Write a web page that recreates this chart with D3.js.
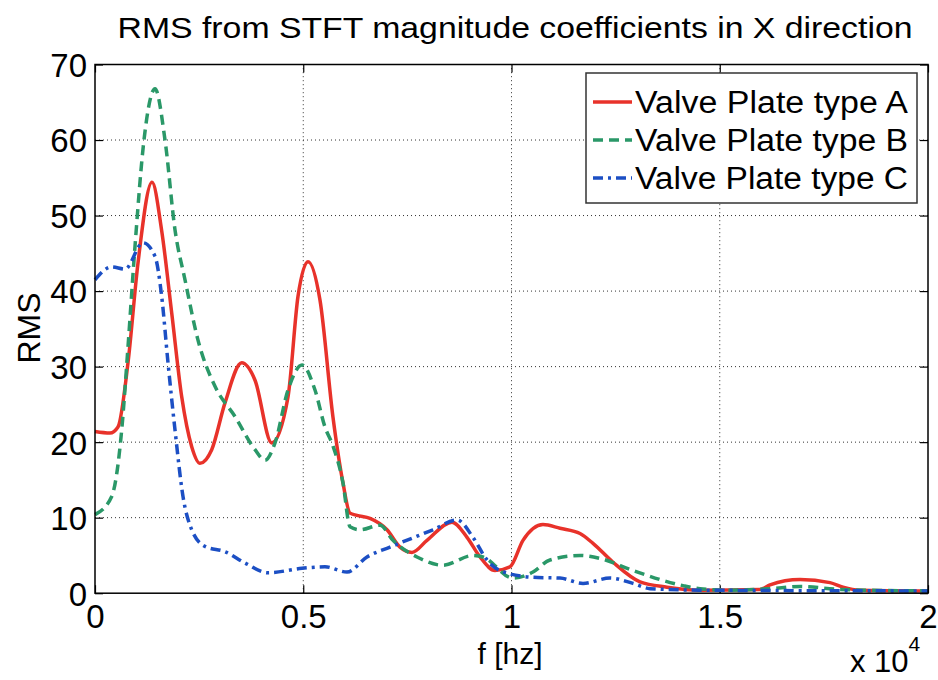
<!DOCTYPE html>
<html>
<head>
<meta charset="utf-8">
<script src="https://cdn.jsdelivr.net/npm/d3@7"></script>
<style>
  body { margin: 0; background: #fff; }
  text { font-family: "Liberation Sans", Arial, sans-serif; fill: #000; }
</style>
</head>
<body>
<div id="wrapper"></div>
<script>
// frequency in Hz, RMS values
const freqA = [0, 360, 552, 792, 1032, 1369, 1601, 1842, 2082, 2322, 2521, 2802, 3121, 3522, 3842, 4243, 4634, 4874, 5114, 5402, 5714, 5954, 6122, 6290, 6603, 7011, 7323, 7611, 7971, 8571, 8932, 9244, 9604, 9964, 10276, 10756, 11165, 11645, 11957, 12437, 13085, 13733, 14526, 15967, 16207, 16927, 17647, 17959, 18368, 20000]
const rmsA  = [21.4, 21.2, 22, 30.5, 43.7, 54.4, 48, 37.1, 26, 19.4, 17.2, 19, 25.2, 30.5, 28.2, 19.9, 26, 39.3, 43.9, 38.8, 23.3, 14.6, 10.6, 10.3, 9.9, 8.4, 6.1, 5.4, 7.0, 9.4, 7.4, 4.8, 3.0, 3.5, 7.0, 9.1, 8.6, 7.9, 6.6, 4.1, 1.5, 0.8, 0.4, 0.5, 1.1, 1.8, 1.4, 0.8, 0.4, 0.3]

const freqB = [0, 401, 641, 792, 960, 1176, 1441, 1681, 1921, 2161, 2473, 2881, 3361, 3842, 4082, 4322, 4634, 4970, 5282, 5522, 5714, 5954, 6122, 6362, 6843, 7155, 7731, 8355, 9076, 9316, 10036, 10516, 10924, 11645, 12125, 12917, 14118, 14526, 15247, 16207, 16927, 17887, 20000]
const rmsB  = [10.4, 12.8, 21.6, 32.6, 45.9, 60, 66.8, 60, 48.1, 41.5, 33.5, 27.4, 23.4, 19, 17.6, 19.9, 26.9, 30.2, 26.9, 22, 19.5, 14.6, 8.8, 8.4, 9.0, 7.0, 4.8, 3.7, 5.0, 4.8, 2.0, 2.8, 4.4, 5.0, 4.6, 3.0, 1.0, 0.6, 0.4, 0.6, 0.9, 0.5, 0.3]

const freqC = [0, 401, 720, 1152, 1441, 1601, 1753, 1921, 2113, 2322, 2641, 3121, 3602, 4154, 4970, 5522, 6050, 6530, 7083, 8115, 8691, 9076, 9412, 9724, 10516, 11165, 11717, 12365, 12917, 13325, 14526, 20000]
const rmsC  = [41.5, 43.2, 42.9, 46.4, 44.6, 39.3, 30.5, 21.6, 12.8, 8.4, 6.2, 5.5, 4.0, 2.7, 3.3, 3.5, 2.8, 4.8, 6.1, 8.4, 9.7, 7.4, 4.4, 3.0, 2.1, 2.0, 1.3, 2.0, 1.3, 0.6, 0.4, 0.3]

const seriesNames = ["Valve Plate type A", "Valve Plate type B", "Valve Plate type C"]
const xTicks = [0, 5000, 10000, 15000, 20000]
const yTicks = [0, 10, 20, 30, 40, 50, 60, 70]

const series = [
    {name: seriesNames[0], f: freqA, v: rmsA, color: "#e8322a", dash: null},
    {name: seriesNames[1], f: freqB, v: rmsB, color: "#2a9868", dash: "10,6"},
    {name: seriesNames[2], f: freqC, v: rmsC, color: "#1c4fc4", dash: "10,5,3,5"}
]

const width = 938, height = 680
const margin = {top: 64.5, left: 95, right: 10, bottom: 87}

const svg = d3.select("#wrapper").append("svg")
    .attr("width", width)
    .attr("height", height)

const x = d3.scaleLinear().domain([0, 20000]).range([margin.left, 928])
const y = d3.scaleLinear().domain([0, 70]).range([593.2, margin.top])

// grid
const grid = svg.append("g")
grid.selectAll(".gx").data(xTicks.slice(1, -1)).enter().append("line")
    .attr("x1", d => x(d)).attr("x2", d => x(d))
    .attr("y1", y(0)).attr("y2", y(70))
    .attr("stroke", "#333").attr("stroke-width", 1).attr("stroke-dasharray", "1,3")
grid.selectAll(".gy").data(yTicks.slice(1, -1)).enter().append("line")
    .attr("x1", x(0)).attr("x2", x(20000))
    .attr("y1", d => y(d)).attr("y2", d => y(d))
    .attr("stroke", "#333").attr("stroke-width", 1).attr("stroke-dasharray", "1,3")

// axes, ticks pointing inward like matlab
const xAxis = svg.append("g")
    .attr("transform", `translate(0,${y(0)})`)
    .call(d3.axisBottom(x).tickValues(xTicks).tickSizeInner(-8).tickSizeOuter(0).tickPadding(11).tickFormat(d => d / 10000))
const xAxisTop = svg.append("g")
    .attr("transform", `translate(0,${y(70)})`)
    .call(d3.axisTop(x).tickValues(xTicks).tickSizeInner(-8).tickSizeOuter(0).tickFormat(""))
const yAxis = svg.append("g")
    .attr("transform", `translate(${x(0)},0)`)
    .call(d3.axisLeft(y).tickValues(yTicks).tickSizeInner(-8).tickSizeOuter(0).tickPadding(8))
const yAxisRight = svg.append("g")
    .attr("transform", `translate(${x(20000)},0)`)
    .call(d3.axisRight(y).tickValues(yTicks).tickSizeInner(-8).tickSizeOuter(0).tickFormat(""))

svg.selectAll(".domain").remove()
svg.selectAll(".tick line").attr("stroke", "#000").attr("stroke-width", 1.2)
xAxis.selectAll("text").attr("font-size", 33).attr("dy", "0.72em")
yAxis.selectAll("text").attr("font-size", 33).attr("dy", "0.36em")
svg.selectAll(".tick text").style("font-family", "Liberation Sans, Arial, sans-serif").attr("fill", "#000")

// lines
const line = d3.line().curve(d3.curveMonotoneX)
series.forEach(s => {
    const pts = s.f.map((f, i) => [x(f), y(s.v[i])])
    svg.append("path")
        .attr("d", line(pts))
        .attr("fill", "none")
        .attr("stroke", s.color)
        .attr("stroke-width", 3.5)
        .attr("stroke-dasharray", s.dash)
})

// box
svg.append("rect")
    .attr("x", x(0)).attr("y", y(70))
    .attr("width", x(20000) - x(0)).attr("height", y(0) - y(70))
    .attr("fill", "none").attr("stroke", "#000").attr("stroke-width", 1.5)

// legend
const legend = svg.append("g")
legend.append("rect")
    .attr("x", 586).attr("y", 73).attr("width", 331).attr("height", 130)
    .attr("fill", "#fff").attr("stroke", "#333").attr("stroke-width", 1.5)
series.forEach((s, i) => {
    const cy = 102 + i * 38
    legend.append("line")
        .attr("x1", 593).attr("x2", 632).attr("y1", cy).attr("y2", cy)
        .attr("stroke", s.color).attr("stroke-width", 3.5)
        .attr("stroke-dasharray", s.dash)
    legend.append("text")
        .attr("x", 635).attr("y", cy + 11)
        .attr("font-size", 31)
        .attr("textLength", 273)
        .attr("lengthAdjust", "spacingAndGlyphs")
        .text(s.name)
})

// titles
svg.append("text")
    .attr("x", 515).attr("y", 38)
    .attr("text-anchor", "middle")
    .attr("font-size", 30)
    .attr("textLength", 795)
    .attr("lengthAdjust", "spacingAndGlyphs")
    .text("RMS from STFT magnitude coefficients in X direction")

svg.append("text")
    .attr("x", 510).attr("y", 664)
    .attr("text-anchor", "middle")
    .attr("font-size", 30)
    .text("f [hz]")

svg.append("text")
    .attr("transform", "translate(40,328) rotate(-90)")
    .attr("text-anchor", "middle")
    .attr("font-size", 32)
    .text("RMS")

const expo = svg.append("text")
    .attr("x", 850).attr("y", 672)
    .attr("font-size", 31)
expo.append("tspan").text("x 10")
expo.append("tspan").attr("font-size", 21).attr("dy", -21).text("4")
</script>
</body>
</html>
